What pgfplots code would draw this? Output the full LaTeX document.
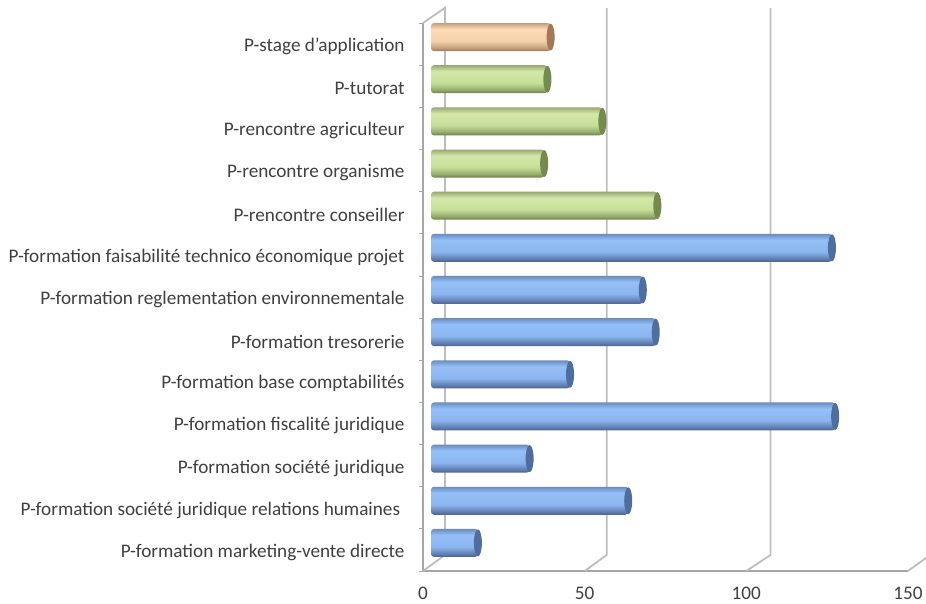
\documentclass[border=0pt]{standalone}
\usepackage{pgfplots}
\usepackage{fontspec}
\setmainfont{Carlito}
\pgfplotsset{compat=1.18}

\definecolor{wallgray}{HTML}{BDBDBD}
\definecolor{axisgray}{HTML}{A6A6A6}
\definecolor{labelgray}{HTML}{404040}
\definecolor{capblue}{rgb}{0.31,0.43,0.62}
\definecolor{capgreen}{rgb}{0.46,0.54,0.31}
\definecolor{caporange}{rgb}{0.64,0.47,0.35}

% cylinder look, bottom to top
\pgfdeclareverticalshading{bluecyl}{100bp}{
  rgb(0bp)=(0.29,0.39,0.56);rgb(25bp)=(0.29,0.39,0.56);rgb(31bp)=(0.38,0.50,0.70);rgb(43bp)=(0.55,0.71,0.94);
  rgb(64bp)=(0.58,0.75,0.97);rgb(75bp)=(0.42,0.55,0.74);rgb(100bp)=(0.42,0.55,0.74)}
\pgfdeclareverticalshading{greencyl}{100bp}{
  rgb(0bp)=(0.42,0.49,0.29);rgb(25bp)=(0.42,0.49,0.29);rgb(31bp)=(0.58,0.67,0.42);rgb(43bp)=(0.78,0.87,0.60);
  rgb(64bp)=(0.83,0.91,0.66);rgb(75bp)=(0.60,0.66,0.45);rgb(100bp)=(0.60,0.66,0.45)}
\pgfdeclareverticalshading{orangecyl}{100bp}{
  rgb(0bp)=(0.60,0.46,0.35);rgb(25bp)=(0.60,0.46,0.35);rgb(31bp)=(0.78,0.63,0.49);rgb(43bp)=(0.96,0.82,0.67);
  rgb(64bp)=(0.99,0.86,0.71);rgb(75bp)=(0.76,0.63,0.50);rgb(100bp)=(0.76,0.63,0.50)}

\pgfdeclareplotmark{cylcap}{%
  \pgfpathellipse{\pgfpointorigin}{\pgfqpoint{4pt}{0pt}}{\pgfqpoint{0pt}{13.5pt}}%
  \pgfusepathqfill}

\pgfplotsset{
  bluebar/.style={draw=none, shade, shading=bluecyl, rounded corners=3pt},
  greenbar/.style={draw=none, shade, shading=greencyl, rounded corners=3pt},
  orangebar/.style={draw=none, shade, shading=orangecyl, rounded corners=3pt},
}

\begin{document}
\begin{tikzpicture}
\useasboundingbox (0,0) rectangle (926pt,604pt);

% walls, ticks and labels
\begin{axis}[
    at={(423pt,33pt)}, anchor=south west,
    scale only axis, width=485pt, height=548pt,
    xmin=0, xmax=150, ymin=0, ymax=13,
    clip=false,
    axis x line=bottom, axis y line=left,
    axis line style={axisgray, line width=1.6pt, -},
    xtick={0,50,100,150},
    ytick={0.5,1.5,...,12.5},
    minor ytick={0,1,...,13},
    tick style={axisgray, line width=0.8pt},
    major tick length=0pt,
    minor tick length=4pt,
    tick align=outside,
    yticklabels={
      P-formation marketing-vente directe,
      P-formation société juridique relations humaines\ ~,
      P-formation société juridique,
      P-formation fiscalité juridique,
      P-formation base comptabilités,
      P-formation tresorerie,
      P-formation reglementation environnementale,
      P-formation faisabilité technico économique projet,
      P-rencontre conseiller,
      P-rencontre organisme,
      P-rencontre agriculteur,
      P-tutorat,
      P-stage d'application},
    tick label style={font=\fontsize{19.2}{21}\selectfont, text=labelgray},
    yticklabel style={xshift=-15pt, yshift=-2.5pt},
    xticklabel style={yshift=-13pt},
    /pgf/number format/assume math mode=true,
]
\addplot[wallgray, line width=1.8pt] coordinates {(0,13) (6.8,13.36) (6.8,0.38) (0,0)};
\addplot[wallgray, line width=1.8pt] coordinates {(50,0) (56.8,0.38) (56.8,13.36)};
\addplot[wallgray, line width=1.8pt] coordinates {(100,0) (107.5,0.38) (107.5,13.36)};
\addplot[wallgray, line width=1.8pt] coordinates {(150,0) (155.6,0.31)};
\end{axis}

% bars, set back on the floor; one plot per bar so each gets its own shading
\begin{axis}[
    at={(431pt,40pt)}, anchor=south west,
    scale only axis, width=485pt, height=548pt,
    xmin=0, xmax=150, ymin=0, ymax=13,
    clip=false, axis lines=none,
    xbar, bar width=28pt, bar shift=0pt,
]
\addplot[bluebar] coordinates {(14.5,0.5)};
\addplot[bluebar] coordinates {(61,1.5)};
\addplot[bluebar] coordinates {(30.5,2.5)};
\addplot[bluebar] coordinates {(125,3.5)};
\addplot[bluebar] coordinates {(43,4.5)};
\addplot[bluebar] coordinates {(69.5,5.5)};
\addplot[bluebar] coordinates {(65.5,6.5)};
\addplot[bluebar] coordinates {(124,7.5)};
\addplot[greenbar] coordinates {(70,8.5)};
\addplot[greenbar] coordinates {(35,9.5)};
\addplot[greenbar] coordinates {(53,10.5)};
\addplot[greenbar] coordinates {(36,11.5)};
\addplot[orangebar] coordinates {(37,12.5)};
\addplot[only marks, mark=cylcap, mark options={fill=capblue}] coordinates {
  (14.5,0.5) (61,1.5) (30.5,2.5) (125,3.5) (43,4.5) (69.5,5.5) (65.5,6.5) (124,7.5)};
\addplot[only marks, mark=cylcap, mark options={fill=capgreen}] coordinates {
  (70,8.5) (35,9.5) (53,10.5) (36,11.5)};
\addplot[only marks, mark=cylcap, mark options={fill=caporange}] coordinates {(37,12.5)};
\end{axis}
\end{tikzpicture}
\end{document}
